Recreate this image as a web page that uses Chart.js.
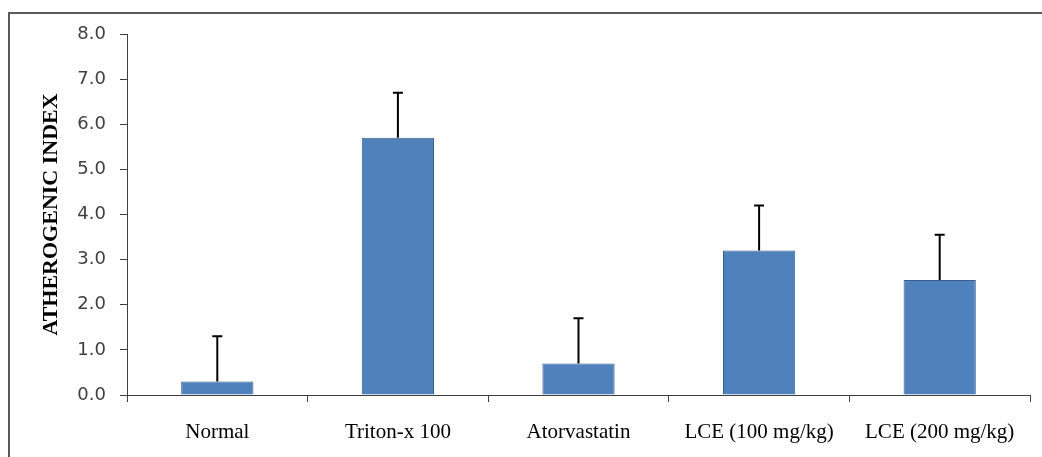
<!DOCTYPE html>
<html>
<head>
<meta charset="utf-8">
<script src="https://cdn.jsdelivr.net/npm/chart.js@4.4.0/dist/chart.umd.min.js"></script>
<style>
  html, body { margin: 0; padding: 0; background: #fff; }
  #wrap { position: relative; width: 1042px; height: 457px; overflow: hidden; }
  #frame { position: absolute; left: 8px; top: 12px; width: 1100px; height: 600px; border: 2px solid #5a5a5a; box-sizing: border-box; }
  #chart { position: absolute; left: 0; top: 0; }
</style>
</head>
<body>
<div id="wrap">
  <div id="frame"></div>
  <canvas id="chart" width="1042" height="457"></canvas>
</div>
<script>
const categories = ["Normal", "Triton-x 100", "Atorvastatin", "LCE (100 mg/kg)", "LCE (200 mg/kg)"];
const indexValues = [0.3, 5.7, 0.7, 3.2, 2.55];
const errorValues = [1.0, 1.0, 1.0, 1.0, 1.0];
const yTicks = [0, 1, 2, 3, 4, 5, 6, 7, 8];

// draws the upper error bar on each column
const errorBars = {
  id: "errorBars",
  afterDatasetsDraw(chart) {
    const ctx = chart.ctx;
    const meta = chart.getDatasetMeta(0);
    const y = chart.scales.y;
    ctx.save();
    ctx.strokeStyle = "#000";
    ctx.lineWidth = 2;
    meta.data.forEach((bar, i) => {
      const top = y.getPixelForValue(indexValues[i] + errorValues[i]);
      ctx.beginPath();
      ctx.moveTo(bar.x, bar.y);
      ctx.lineTo(bar.x, top);
      ctx.moveTo(bar.x - 5, top);
      ctx.lineTo(bar.x + 5, top);
      ctx.stroke();
    });
    ctx.restore();
  }
};

new Chart(document.getElementById("chart"), {
  type: "bar",
  data: {
    labels: categories,
    datasets: [{
      data: indexValues,
      backgroundColor: "#4F81BD",
      borderColor: "#3A5F8B",
      borderWidth: 1,
      barPercentage: 0.4,
      categoryPercentage: 1.0
    }]
  },
  options: {
    responsive: false,
    animation: false,
    layout: { padding: { left: 38, top: 34, right: 12, bottom: 0 } },
    plugins: { legend: { display: false }, tooltip: { enabled: false } },
    scales: {
      x: {
        offset: true,
        grid: { offset: true, drawOnChartArea: false, tickLength: 7, color: "#404040" },
        border: { color: "#404040", width: 1 },
        ticks: { color: "#000", padding: 18, font: { family: "Liberation Serif", size: 21 }, maxRotation: 0 },
        afterFit(scale) { scale.height = 62; }
      },
      y: {
        min: 0,
        max: 8,
        afterBuildTicks(scale) { scale.ticks = yTicks.map(v => ({ value: v })); },
        grid: { drawOnChartArea: false, tickLength: 7, color: "#404040" },
        border: { color: "#404040", width: 1 },
        ticks: {
          color: "#404040",
          padding: 14,
          font: { family: "DejaVu Sans", size: 18 },
          callback: v => v.toFixed(1)
        },
        title: {
          display: true,
          text: "ATHEROGENIC INDEX",
          color: "#000",
          padding: { top: 0, bottom: 0 },
          font: { family: "Liberation Serif", size: 22, weight: "bold" }
        },
        afterFit(scale) { scale.width = 89; }
      }
    }
  },
  plugins: [errorBars]
});
</script>
</body>
</html>
